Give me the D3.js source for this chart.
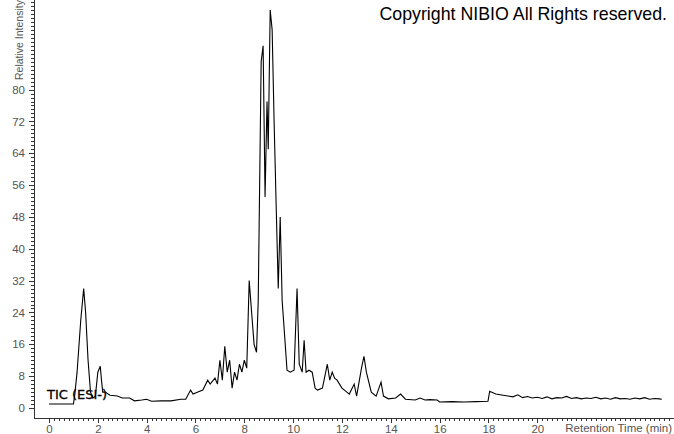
<!DOCTYPE html>
<html>
<head>
<meta charset="utf-8">
<script src="https://cdn.jsdelivr.net/npm/d3@7"></script>
<style>
  body { margin: 0; background: #fff; }
  svg { display: block; }
  .axis text { font-family: "Liberation Sans", Arial, sans-serif; font-size: 11.5px; fill: #555; }
  .axis path, .axis line { stroke: #333; shape-rendering: crispEdges; }
</style>
</head>
<body>
<div id="chart"></div>
<script>
var width = 674;
var height = 434;

// retention time (min) and relative intensity
var times = [0, 1.0, 1.05, 1.15, 1.3, 1.42, 1.5, 1.6, 1.7, 1.8, 1.9, 2.0, 2.1, 2.15, 2.2, 2.3, 2.5, 2.8, 3.0, 3.3, 3.5, 3.8, 4.0, 4.2, 4.6, 5.0, 5.4, 5.6, 5.8, 5.9, 6.1, 6.3, 6.5, 6.6, 6.8, 6.9, 7.0, 7.1, 7.2, 7.3, 7.4, 7.5, 7.6, 7.7, 7.8, 7.9, 8.0, 8.1, 8.2, 8.3, 8.4, 8.5, 8.57, 8.69, 8.77, 8.85, 8.93, 8.98, 9.06, 9.14, 9.22, 9.3, 9.39, 9.47, 9.55, 9.63, 9.75, 9.88, 10.04, 10.16, 10.25, 10.37, 10.45, 10.53, 10.65, 10.78, 10.9, 11.0, 11.2, 11.4, 11.5, 11.6, 11.7, 11.8, 12.0, 12.2, 12.3, 12.5, 12.6, 12.8, 12.9, 13.0, 13.2, 13.4, 13.6, 13.7, 13.9, 14.2, 14.4, 14.6, 15.0, 15.2, 15.4, 15.6, 15.9, 16.0, 16.5, 17.0, 17.5, 17.98, 18.05, 18.3, 18.6, 18.8, 19.0, 19.2, 19.4, 19.6, 19.8, 20.0, 20.2, 20.4, 20.6, 20.8, 21.0, 21.2, 21.4, 21.6, 21.8, 22.0, 22.2, 22.4, 22.6, 22.8, 23.0, 23.2, 23.4, 23.6, 23.8, 24.0, 24.2, 24.4, 24.6, 24.8, 25.0, 25.1];
var intensity = [1.0, 1.0, 3, 9, 22, 30, 24, 12, 4, 2.5, 3, 9, 10.5, 7, 4, 4, 3.2, 3, 2.5, 2.5, 1.8, 2.0, 2.2, 1.7, 1.8, 1.8, 2.2, 2.2, 4.5, 3.5, 4, 4.5, 7, 6, 7.5, 6, 12, 7, 15.5, 9, 12, 5, 9, 7, 11, 9, 12, 10, 32, 24, 16, 14, 27, 87, 91, 53, 77, 65, 100, 95, 72, 52, 30, 48, 27, 20, 9.5, 9, 9.5, 30, 11, 9, 17, 9, 9.5, 9, 5, 4.5, 5, 11, 7, 9, 7.5, 7, 5, 4, 3.5, 6, 3, 10, 13, 9, 4, 3, 6.5, 3, 2.3, 2.5, 3.5, 2.2, 2, 2.5, 2, 2.1, 2.0, 1.5, 1.6, 1.5, 1.6, 1.7, 4.2, 3.5, 3.2, 3.0, 2.8, 3.3, 2.6, 2.9, 2.5, 2.7, 2.4, 2.8, 2.3, 2.6, 2.5, 2.9, 2.4, 2.6, 2.3, 2.5, 2.4, 2.7, 2.3, 2.5, 2.2, 2.6, 2.3, 2.4, 2.2, 2.5, 2.3, 2.6, 2.2, 2.4, 2.3, 2.2];

var xTicks = [0, 2, 4, 6, 8, 10, 12, 14, 16, 18, 20];
var yTicks = [0, 8, 16, 24, 32, 40, 48, 56, 64, 72, 80];

var svg = d3.select("#chart").append("svg")
  .attr("width", width)
  .attr("height", height);

var x = d3.scaleLinear().domain([0, 25.6]).range([49, 674]);
var y = d3.scaleLinear().domain([0, 102.5]).range([408, 0]);

// y axis: minor ticks every unit, labelled every 8
svg.append("g")
  .attr("class", "axis")
  .attr("transform", "translate(34,0)")
  .call(d3.axisLeft(y).tickValues(d3.range(0, 103, 1)).tickSize(3).tickFormat(""))
  .call(g => g.select(".domain").remove());

svg.append("g")
  .attr("class", "axis")
  .attr("transform", "translate(34,0)")
  .call(d3.axisLeft(y).tickValues(yTicks).tickSize(5).tickPadding(4).tickSizeOuter(0))
  .call(g => g.select(".domain").remove());

svg.append("line")
  .attr("x1", 34.5).attr("x2", 34.5)
  .attr("y1", 0).attr("y2", 418)
  .attr("stroke", "#333");

// x axis
svg.append("g")
  .attr("class", "axis")
  .attr("transform", "translate(0,418)")
  .call(d3.axisBottom(x).tickValues(d3.range(0, 25.61, 0.2)).tickSize(3).tickFormat(""))
  .call(g => g.select(".domain").remove());

svg.append("g")
  .attr("class", "axis")
  .attr("transform", "translate(0,418)")
  .call(d3.axisBottom(x).tickValues(xTicks).tickSize(5).tickPadding(2))
  .call(g => g.select(".domain").remove());

svg.append("line")
  .attr("x1", 34).attr("x2", 674)
  .attr("y1", 418.5).attr("y2", 418.5)
  .attr("stroke", "#333");

// trace
var points = times.map((t, i) => [t, intensity[i]]);
var line = d3.line().x(d => x(d[0])).y(d => y(d[1]));

svg.append("path")
  .datum(points)
  .attr("d", line)
  .attr("fill", "none")
  .attr("stroke", "#000")
  .attr("stroke-width", 1.1);

// labels
svg.append("text")
  .attr("transform", "translate(23,80) rotate(-90)")
  .style("font-family", "Liberation Sans, Arial, sans-serif")
  .style("font-size", "10.5px")
  .style("fill", "#555")
  .text("Relative Intensity");

svg.append("text")
  .attr("x", 672).attr("y", 432)
  .attr("text-anchor", "end")
  .style("font-family", "Liberation Sans, Arial, sans-serif")
  .style("font-size", "11.5px")
  .style("fill", "#555")
  .text("Retention Time (min)");

svg.append("text")
  .attr("x", 667).attr("y", 20)
  .attr("text-anchor", "end")
  .style("font-family", "Liberation Sans, Arial, sans-serif")
  .style("font-size", "17.8px")
  .style("fill", "#000")
  .text("Copyright NIBIO All Rights reserved.");

svg.append("text")
  .attr("x", 47).attr("y", 399)
  .style("font-family", "DejaVu Sans, sans-serif")
  .style("font-size", "13px")
  .style("font-weight", "500")
  .style("stroke", "#000")
  .style("stroke-width", 0.3)
  .style("fill", "#000")
  .text("TIC (ESI-)");
</script>
</body>
</html>
